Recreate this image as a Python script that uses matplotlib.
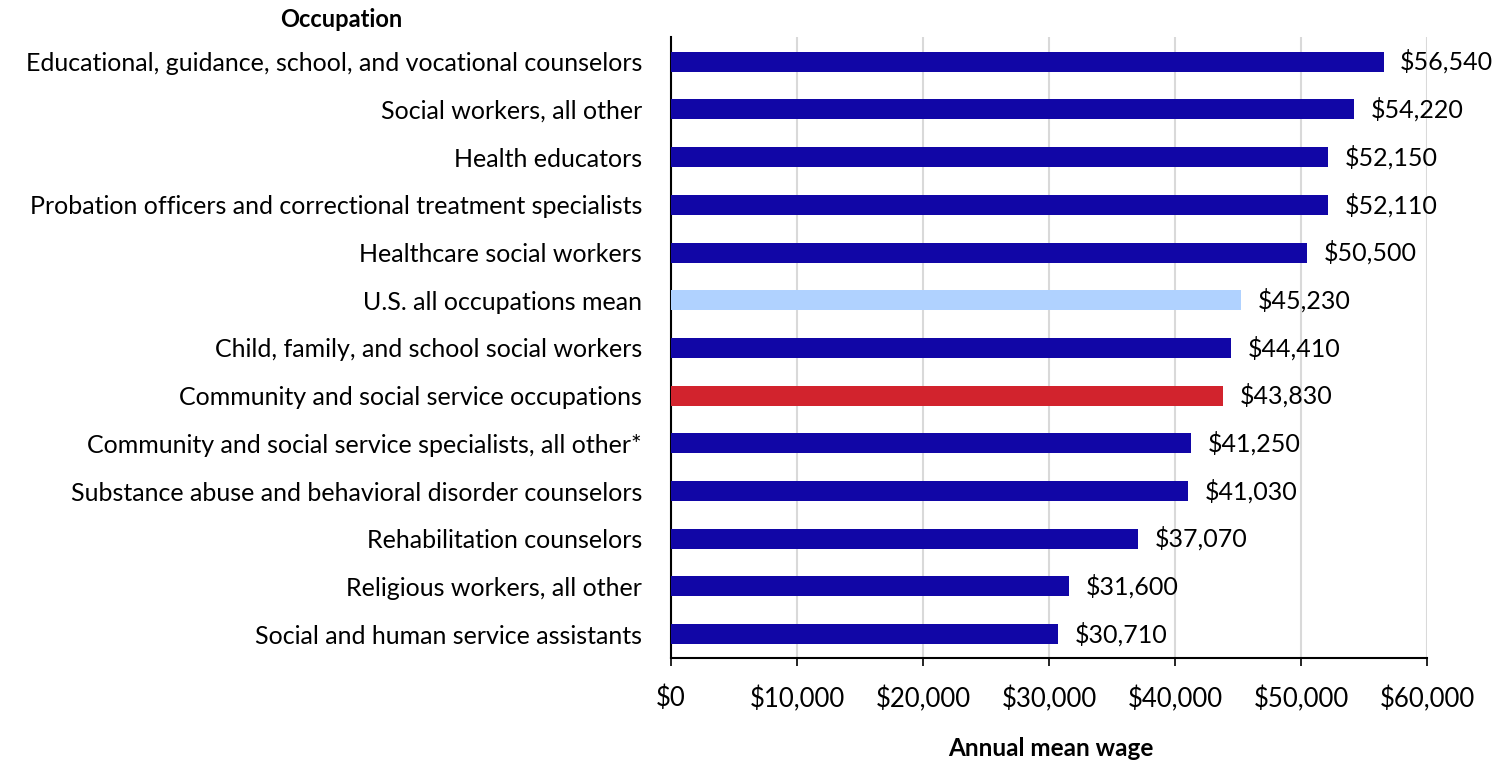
import matplotlib.pyplot as plt
from matplotlib.ticker import FuncFormatter

occupations = [
    "Educational, guidance, school, and vocational counselors",
    "Social workers, all other",
    "Health educators",
    "Probation officers and correctional treatment specialists",
    "Healthcare social workers",
    "U.S. all occupations mean",
    "Child, family, and school social workers",
    "Community and social service occupations",
    "Community and social service specialists, all other*",
    "Substance abuse and behavioral disorder counselors",
    "Rehabilitation counselors",
    "Religious workers, all other",
    "Social and human service assistants",
]
wages = [56540, 54220, 52150, 52110, 50500, 45230, 44410, 43830,
         41250, 41030, 37070, 31600, 30710]

dark_blue = "#1106A6"
light_blue = "#B0D2FF"
red = "#D2232D"
colors = [dark_blue] * len(wages)
colors[5] = light_blue
colors[7] = red

plt.rcParams['font.family'] = ['Lato', 'DejaVu Sans']

fig = plt.figure(figsize=(15.07, 7.61), dpi=100)
ax = fig.add_axes([0.4453, 0.1354, 0.5017, 0.816])

ypos = list(range(len(wages)))
ax.barh(ypos, wages, height=0.42, color=colors, zorder=3)
ax.set_ylim(len(wages) - 0.5, -0.52)
ax.set_xlim(0, 60000)
ax.set_xticks(range(0, 60001, 10000))
ax.xaxis.set_major_formatter(FuncFormatter(lambda v, p: f"${int(v):,}"))
ax.set_yticks(ypos)
ax.set_yticklabels(occupations)

for y, w in zip(ypos, wages):
    ax.annotate(f"${w:,}", (w, y), xytext=(12, 0), textcoords="offset points",
                va="center", ha="left", fontsize=18, color="black")

ax.grid(axis="x", color="#D9D9D9", linewidth=1.5, zorder=0)
for s in ["top", "right"]:
    ax.spines[s].set_visible(False)
ax.spines["left"].set_linewidth(1.5)
ax.spines["bottom"].set_linewidth(1.5)
ax.tick_params(axis="y", length=0, pad=21, labelsize=18)
ax.tick_params(axis="x", direction="out", length=6, width=1.2, pad=14, labelsize=18.5)

fig.text(0.186, 0.975, "Occupation", fontsize=17, fontweight="bold", ha="left", va="center")
fig.text(0.697, 0.017, "Annual mean wage", fontsize=17.5, fontweight="bold", ha="center", va="center")

fig.savefig("out.png", dpi=100)
